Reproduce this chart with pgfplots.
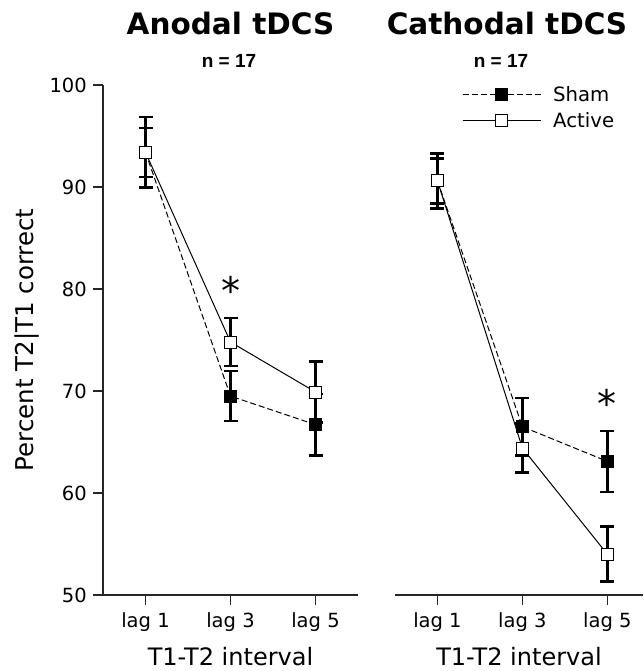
\documentclass[border=0pt]{standalone}
\usepackage{fontspec}
\setmainfont{DejaVu Sans}
\newfontfamily\nfont{Liberation Sans}
\usepackage{pgfplots}
\pgfplotsset{compat=1.18}

\pgfplotsset{
  panel/.style={
    scale only axis, height=510pt,
    ymin=50, ymax=100, xmin=-0.5,
    axis x line*=bottom, axis y line*=left,
    xtick={0,1,2}, xticklabels={lag 1, lag 3, lag 5},
    ytick={50,60,...,100},
    tick align=outside, major tick length=10pt,
    every tick/.style={black!85, line width=1.2pt},
    axis line style={black!85, line width=1.2pt},
    tick label style={font=\fontsize{19.5}{20}\selectfont},
    /pgf/number format/assume math mode=true,
    xticklabel style={anchor=base, inner sep=0pt, yshift=-22pt},
    yticklabel style={anchor=east, inner sep=0pt, xshift=-6pt},
    xlabel={T1-T2 interval},
    xlabel style={font=\fontsize{24}{26}\selectfont, at={(axis description cs:0.5,-0.1392)}, anchor=base, inner sep=0pt},
    clip=false,
  },
  sham/.style={black, line width=1pt, dash pattern=on 6pt off 3pt,
    mark=square*, mark size=6pt, mark options={solid, fill=black, line width=1pt},
    error bars/.cd, y dir=both, y explicit,
    error bar style={line width=2.5pt, solid},
    error mark options={rotate=90, mark size=7pt, line width=2.5pt, solid}},
  active/.style={black, line width=1pt, solid,
    mark=square*, mark size=6pt, mark options={solid, fill=white, line width=1pt},
    error bars/.cd, y dir=both, y explicit,
    error bar style={line width=2.5pt, solid},
    error mark options={rotate=90, mark size=7pt, line width=2.5pt, solid}},
}

\begin{document}
\begin{tikzpicture}
% Anodal
\begin{axis}[panel, width=255pt, xmax=2.5,
    at={(103pt,76pt)}, anchor=south west,
    ylabel={Percent T2|T1 correct},
    ylabel style={font=\fontsize{24.5}{26}\selectfont, at={(axis description cs:-0.2745,0.5)}, anchor=base, rotate=0, inner sep=0pt},
  ]
  \addplot[sham] coordinates {(0,93.4) +- (0,3.45) (1,69.5) +- (0,2.45) (2,66.7) +- (0,3.0)};
  \addplot[active] coordinates {(0,93.4) +- (0,2.4) (1,74.8) +- (0,2.35) (2,69.9) +- (0,3.0)};
  \node[font=\fontsize{38}{38}\selectfont, anchor=base, yshift=-22pt] at (axis cs:1,80.6) {*};
\end{axis}
% Cathodal
\begin{axis}[panel, width=248pt, xmax=2.42,
    at={(395pt,76pt)}, anchor=south west,
    axis y line=none, ytick=\empty,
    legend style={at={(0.27,0.998)}, anchor=north west, draw=none, fill=none, inner sep=0pt,
      font=\fontsize{19.7}{22}\selectfont, row sep=10pt,
      nodes={inner sep=0pt},
      /tikz/every odd column/.append style={column sep=12pt}},
    legend cell align=left,
    legend image code/.code={\draw[mark repeat=2,mark phase=2] plot coordinates {(0pt,0pt) (39pt,0pt) (78pt,0pt)};},
  ]
  \addplot[sham] coordinates {(0,90.6) +- (0,2.7) (1,66.5) +- (0,2.8) (2,63.1) +- (0,3.0)};
  \addplot[active] coordinates {(0,90.6) +- (0,2.2) (1,64.4) +- (0,2.4) (2,54.0) +- (0,2.7)};
  \legend{Sham, Active}
  \node[font=\fontsize{38}{38}\selectfont, anchor=base, yshift=-22pt] at (axis cs:2,69.6) {*};
\end{axis}
\node[anchor=base, font=\bfseries\fontsize{29.5}{30}\selectfont] at (230.5pt,636pt) {Anodal tDCS};
\node[anchor=base, font=\nfont\bfseries\fontsize{19}{20}\selectfont] at (229pt,603pt) {n = 17};
\node[anchor=base, font=\bfseries\fontsize{29.5}{30}\selectfont] at (507pt,636pt) {Cathodal tDCS};
\node[anchor=base, font=\nfont\bfseries\fontsize{19}{20}\selectfont] at (501pt,603pt) {n = 17};
\pgfresetboundingbox
\path[use as bounding box] (0,0) rectangle (643pt,671pt);
\end{tikzpicture}
\end{document}
